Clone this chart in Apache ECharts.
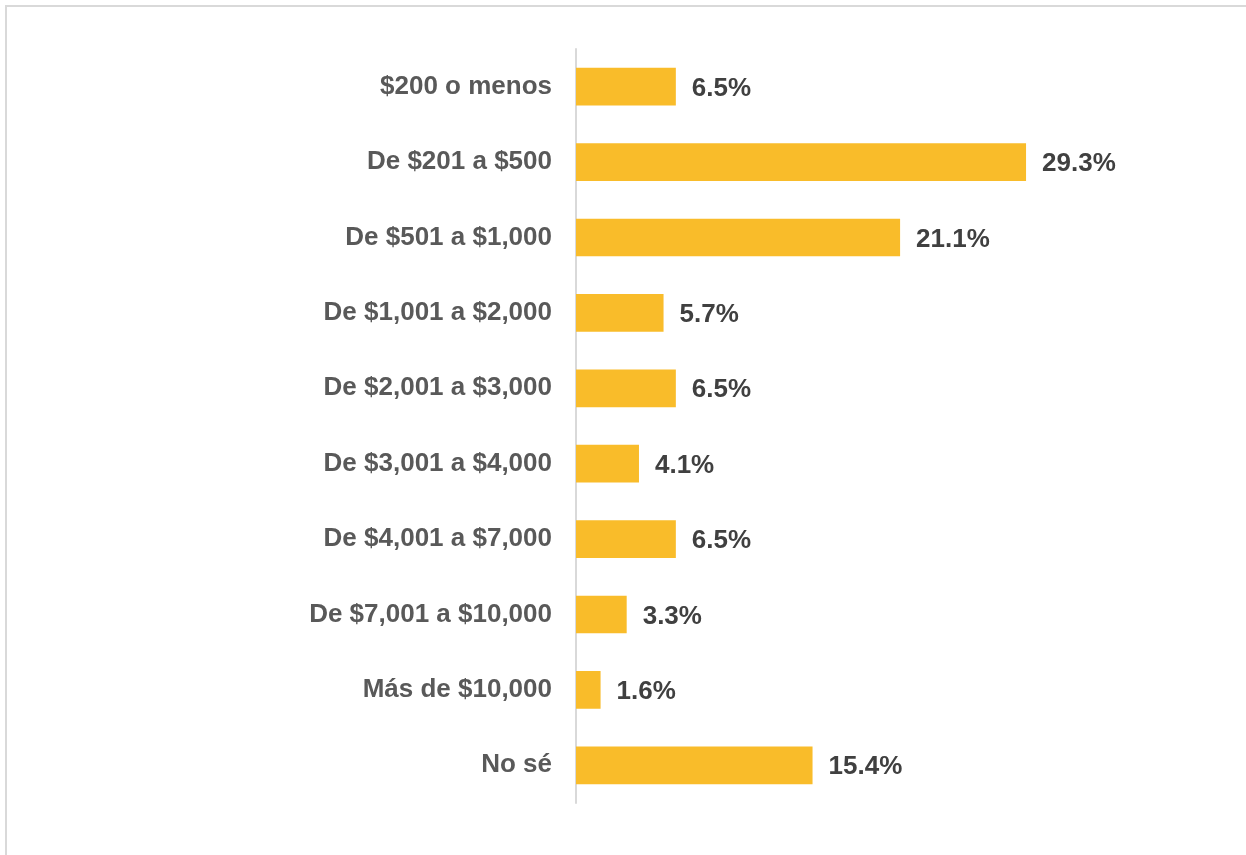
<!DOCTYPE html>
<html>
<head>
<meta charset="utf-8">
<script src="https://cdn.jsdelivr.net/npm/echarts@6/dist/echarts.min.js"></script>
<style>
    html, body { margin: 0; padding: 0; background: #fff; }
    #chart { width: 1246px; height: 855px; }
</style>
</head>
<body>
<div id="chart"></div>
<script>
    // rangos de gasto
    var categories = [
        '$200 o menos', 'De $201 a $500', 'De $501 a $1,000', 'De $1,001 a $2,000',
        'De $2,001 a $3,000', 'De $3,001 a $4,000', 'De $4,001 a $7,000',
        'De $7,001 a $10,000', 'Más de $10,000', 'No sé'
    ];
    var values = [6.5, 29.3, 21.1, 5.7, 6.5, 4.1, 6.5, 3.3, 1.6, 15.4];

    var chart = echarts.init(document.getElementById('chart'));
    var option = {
        animation: false,
        textStyle: { fontFamily: '"Liberation Sans", Arial, sans-serif' },
        graphic: [{
            type: 'rect',
            shape: { x: 6, y: 6, width: 1400, height: 1000 },
            style: { fill: 'none', stroke: '#d9d9d9', lineWidth: 2 },
            silent: true
        }],
        grid: { left: 576, top: 49, bottom: 52, width: 614.4 },
        xAxis: {
            type: 'value',
            min: 0,
            max: 40,
            show: false
        },
        yAxis: {
            type: 'category',
            inverse: true,
            data: categories,
            axisLine: { lineStyle: { color: '#d9d9d9', width: 2 } },
            axisTick: { show: false },
            axisLabel: {
                margin: 24,
                fontSize: 26,
                fontWeight: 'bold',
                color: '#595959',
                verticalAlign: 'middle',
                lineHeight: 26,
                padding: [5, 0, 0, 0]
            }
        },
        series: [{
            type: 'bar',
            data: values,
            barWidth: '50%',
            itemStyle: { color: '#F9BC2A' },
            label: {
                show: true,
                position: 'right',
                distance: 16,
                offset: [0, 2],
                fontSize: 26,
                fontWeight: 'bold',
                color: '#404040',
                formatter: function (p) { return p.value.toFixed(1) + '%'; }
            }
        }]
    };
    chart.setOption(option);
</script>
</body>
</html>
